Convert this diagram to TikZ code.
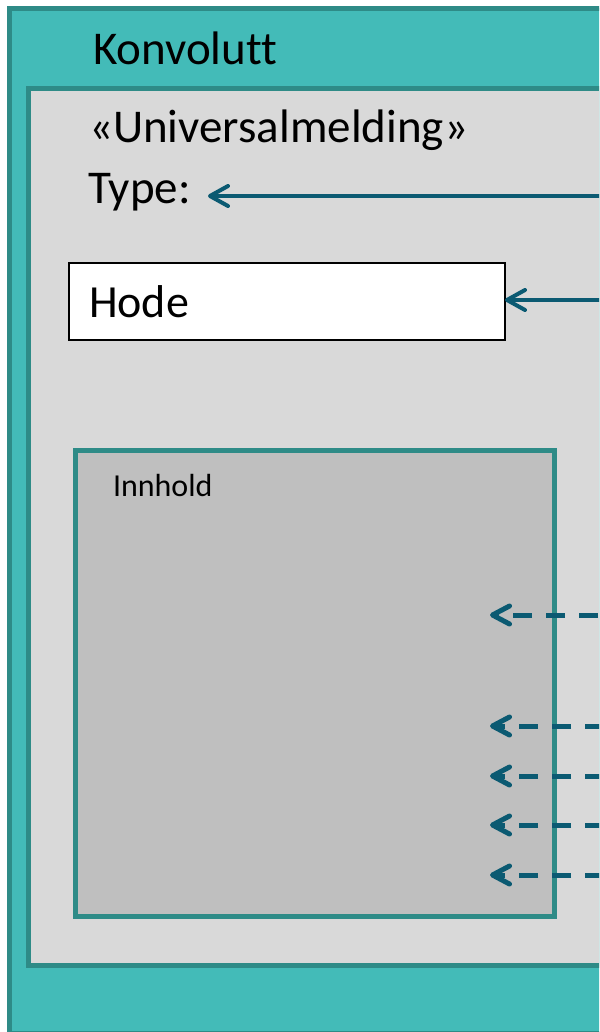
\documentclass[tikz,border=0pt]{standalone}
\usepackage{fontspec}
\setmainfont[Ligatures={NoCommon}]{Carlito}
\usetikzlibrary{arrows.meta}
\definecolor{tealfill}{HTML}{43BBB8}
\definecolor{tealline}{HTML}{2E8B87}
\definecolor{greyfill}{HTML}{D9D9D9}
\definecolor{darkgrey}{HTML}{BFBFBF}
\definecolor{arrowcol}{HTML}{0B5A72}
\tikzset{
  box/.style={draw=tealline, line width=5pt, inner sep=0pt, outer sep=0pt, anchor=north west},
  txt/.style={inner sep=0pt, outer sep=0pt, anchor=base west, text=black},
  solidarrow/.style={draw=arrowcol, line width=4pt, -{Straight Barb[length=18pt, width=20pt, line cap=round, line join=round]}},
  dasharrow/.style={draw=arrowcol, line width=5pt, dash pattern=on 19pt off 14pt, -{Straight Barb[length=17pt, width=18pt, line cap=round, line join=round]}}
}
\begin{document}
\begin{tikzpicture}[x=1pt, y=-1pt]
\useasboundingbox (0,0) rectangle (599,1032);
\clip (0,0) rectangle (599,1032);
\fill[white] (0,0) rectangle (599,1032);
% boxes
\node[box, fill=tealfill, minimum width=640pt, minimum height=1024.5pt] (konv) at (9.5,8.5) {};
\node[box, fill=greyfill, minimum width=572.5pt, minimum height=877pt] (meld) at (28.5,88.5) {};
\node[draw=black, line width=1.8pt, fill=white, inner sep=0pt, outer sep=0pt, anchor=north west, minimum width=436pt, minimum height=77pt] (hode) at (69,263) {};
\node[box, fill=darkgrey, minimum width=478.5pt, minimum height=466pt] (innh) at (75.5,450.5) {};
% texts
\node[txt, font=\fontsize{47}{50}\selectfont] (tkonv) at (93,65) {Konvolutt};
\node[txt, font=\fontsize{47}{50}\selectfont] (tmeld) at (89,143) {«Universalmelding»};
\node[txt, font=\fontsize{47}{50}\selectfont] (ttype) at (88,204) {Type:};
\node[txt, font=\fontsize{46}{50}\selectfont] (thode) at (89,317) {Hode};
\node[txt, font=\fontsize{32}{36}\selectfont] (tinnh) at (113,496) {Innhold};
% arrow sources and targets
\coordinate (s1) at (650,196);
\coordinate (s2) at (650,300);
\coordinate (t1) at (208,196);
\foreach \i/\y in {3/615,4/726,5/776,6/825,7/875}{
  \coordinate (s\i) at (650,\y);
  \coordinate (t\i) at (490,\y);
}
\draw[solidarrow] (s1) -- (t1);
\draw[solidarrow] (s2) -- (hode.east |- s2);
\draw[dasharrow, dash phase=14pt] (s3) -- (t3);
\foreach \i in {4,...,7}{
  \draw[dasharrow, dash phase=20pt] (s\i) -- (t\i);
}
\end{tikzpicture}
\end{document}
